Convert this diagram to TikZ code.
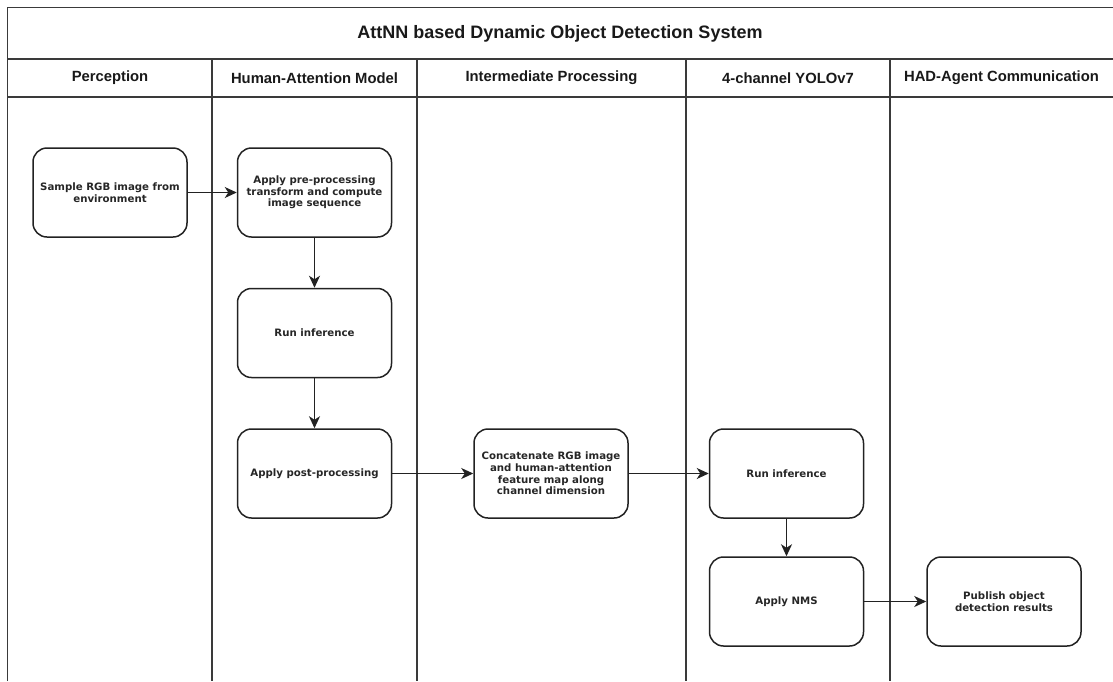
\documentclass[tikz,border=0pt]{standalone}
\usepackage{fontspec}
\setmainfont{Liberation Sans}
\newfontfamily\boxfont{DejaVu Sans}
\usetikzlibrary{arrows.meta}
\definecolor{linegray}{HTML}{3A3A3A}
\definecolor{boxline}{HTML}{222222}

\begin{document}
\begin{tikzpicture}[x=1pt,y=-1pt,
  lane/.style={draw=linegray, line width=1.5pt},
  stepbox/.style={draw=boxline, line width=1.5pt, rounded corners=14pt,
    minimum width=154pt, minimum height=89pt, align=center, inner sep=2pt,
    text=black!85, font=\boxfont\bfseries\fontsize{10.2}{11.7}\selectfont},
  flow/.style={draw=boxline, line width=1.5pt,
    -{Stealth[length=12pt,width=11pt,inset=3.5pt]}},
  hdr/.style={font=\bfseries\fontsize{14.8}{17}\selectfont, text=black!90},
  ttl/.style={font=\bfseries\fontsize{18}{21}\selectfont, text=black!90}
]
\useasboundingbox (0,0) rectangle (1113,681);

% pool frame, title row and lane header row
\draw[lane] (7.5,681) -- (7.5,7.5) -- (1116,7.5);
\draw[lane] (7.5,59) -- (1116,59);
\draw[lane] (7.5,97) -- (1116,97);
% lane dividers
\foreach \x in {212,417,686,890}
  \draw[lane] (\x,59) -- (\x,681);

% titles
\node[ttl] (title) at (560,33.5) {AttNN based Dynamic Object Detection System};
\node[hdr] (h1) at (110,78) {Perception};
\node[hdr] (h2) at (314.5,78) {Human-Attention Model};
\node[hdr] (h3) at (551.5,78) {Intermediate Processing};
\node[hdr] (h4) at (788,78) {4-channel YOLOv7};
\node[hdr] (h5) at (1001.5,78) {HAD-Agent Communication};

% process steps
\node[stepbox] (sample) at (110,192.5) {Sample RGB image from\\environment};
\node[stepbox] (pre) at (314.5,192.5) {Apply pre-processing\\transform and compute\\image sequence};
\node[stepbox] (inf1) at (314.5,333) {Run inference};
\node[stepbox] (post) at (314.5,473.5) {Apply post-processing};
\node[stepbox] (concat) at (551,473.5) {Concatenate RGB image\\and human-attention\\feature map along\\channel dimension};
\node[stepbox] (inf2) at (786.5,473.5) {Run inference};
\node[stepbox] (nms) at (786.5,601.5) {Apply NMS};
\node[stepbox] (pub) at (1004,601.5) {Publish object\\detection results};

% flow
\draw[flow] (sample) -- (pre);
\draw[flow] (pre) -- (inf1);
\draw[flow] (inf1) -- (post);
\draw[flow] (post) -- (concat);
\draw[flow] (concat) -- (inf2);
\draw[flow] (inf2) -- (nms);
\draw[flow] (nms) -- (pub);
\end{tikzpicture}
\end{document}
